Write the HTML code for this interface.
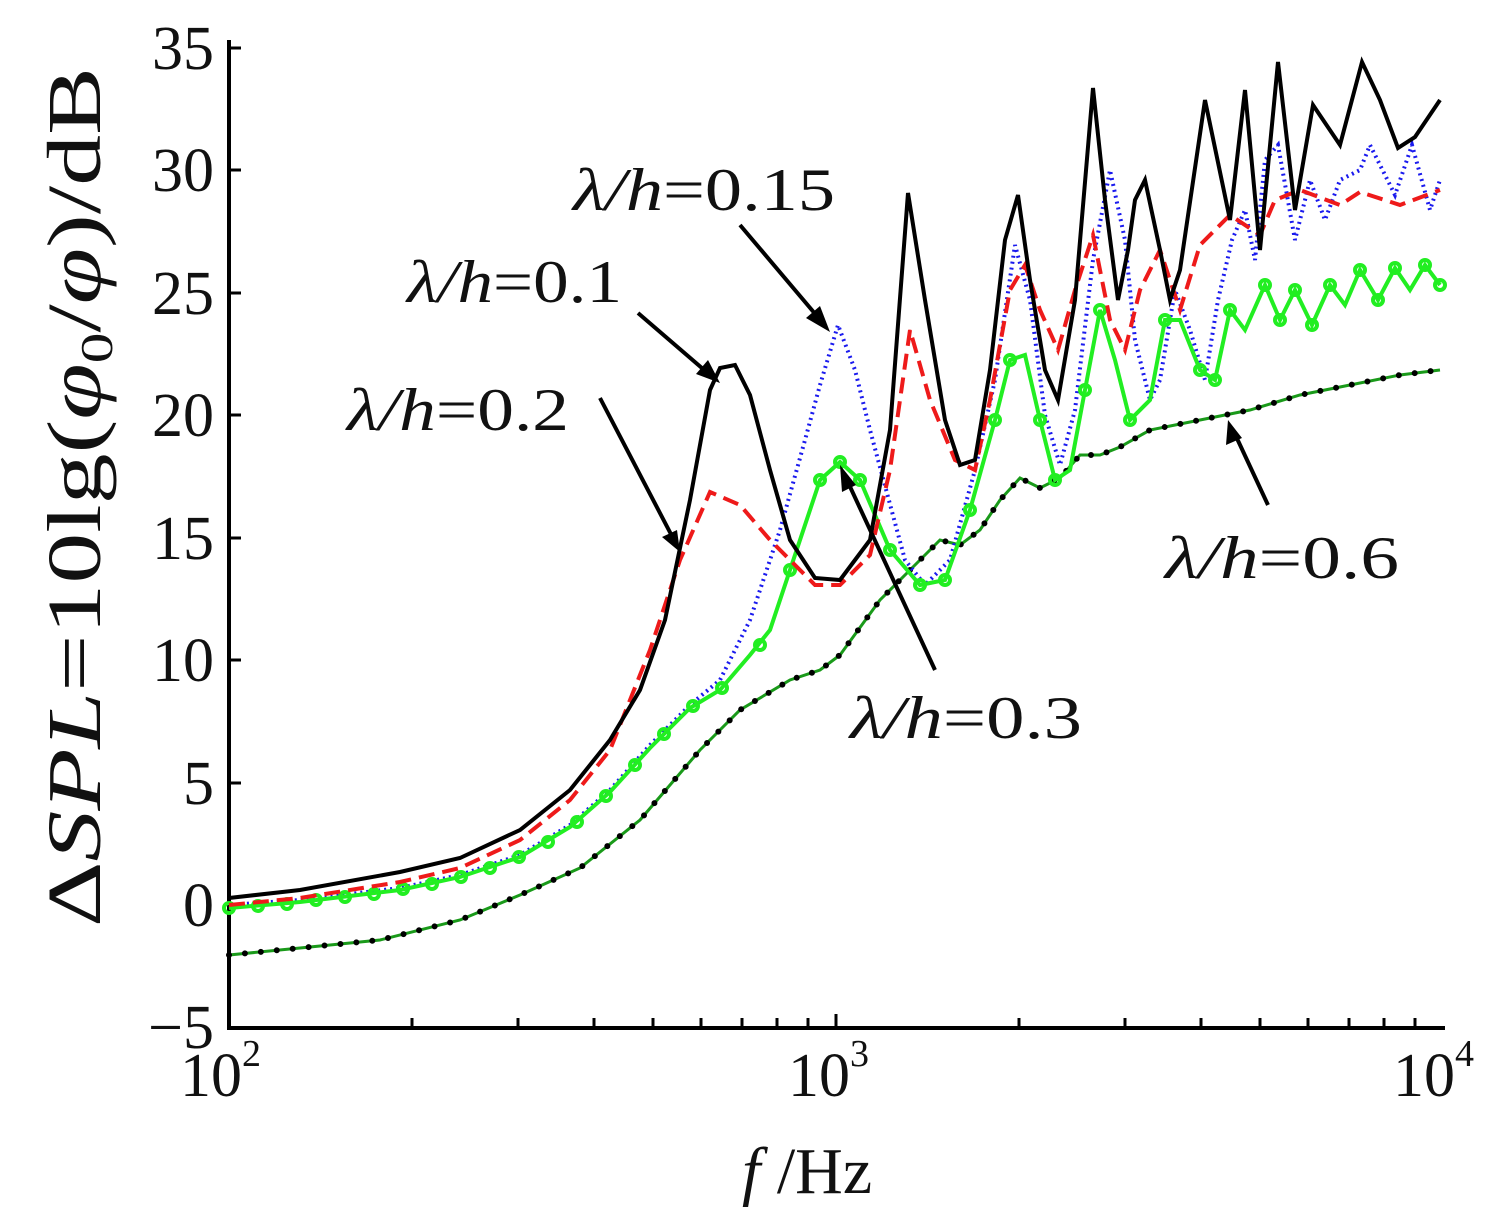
<!DOCTYPE html>
<html><head><meta charset="utf-8"><style>html,body{margin:0;padding:0;background:#fff}svg{display:block}</style></head>
<body>
<svg width="1506" height="1212" viewBox="0 0 1506 1212" xmlns="http://www.w3.org/2000/svg" font-family="'Liberation Serif', serif">
<rect width="1506" height="1212" fill="#fff"/>
<path d="M229,40 L229,1028 L1445,1028" fill="none" stroke="#000" stroke-width="4"/>
<g stroke="#000" stroke-width="3">
<line x1="229" y1="48" x2="241" y2="48"/><line x1="229" y1="170" x2="241" y2="170"/><line x1="229" y1="293" x2="241" y2="293"/><line x1="229" y1="415" x2="241" y2="415"/><line x1="229" y1="538" x2="241" y2="538"/><line x1="229" y1="660" x2="241" y2="660"/><line x1="229" y1="783" x2="241" y2="783"/><line x1="229" y1="905" x2="241" y2="905"/>
<line x1="412" y1="1028" x2="412" y2="1018"/><line x1="518" y1="1028" x2="518" y2="1018"/><line x1="594" y1="1028" x2="594" y2="1018"/><line x1="653" y1="1028" x2="653" y2="1018"/><line x1="701" y1="1028" x2="701" y2="1018"/><line x1="742" y1="1028" x2="742" y2="1018"/><line x1="777" y1="1028" x2="777" y2="1018"/><line x1="808" y1="1028" x2="808" y2="1018"/><line x1="836" y1="1028" x2="836" y2="1014"/>
<line x1="1019" y1="1028" x2="1019" y2="1018"/><line x1="1125" y1="1028" x2="1125" y2="1018"/><line x1="1201" y1="1028" x2="1201" y2="1018"/><line x1="1260" y1="1028" x2="1260" y2="1018"/><line x1="1308" y1="1028" x2="1308" y2="1018"/><line x1="1349" y1="1028" x2="1349" y2="1018"/><line x1="1384" y1="1028" x2="1384" y2="1018"/><line x1="1415" y1="1028" x2="1415" y2="1018"/>
</g>
<g font-size="62" text-anchor="end" fill="#111">
<text x="214" y="69">35</text><text x="214" y="191">30</text><text x="214" y="314">25</text><text x="214" y="436">20</text><text x="214" y="559">15</text><text x="214" y="681">10</text><text x="214" y="804">5</text><text x="214" y="926">0</text><text x="214" y="1048">−5</text>
</g>
<g font-size="62" fill="#111">
<text x="180" y="1096">10<tspan font-size="38" dy="-30">2</tspan></text>
<text x="788" y="1096">10<tspan font-size="38" dy="-30">3</tspan></text>
<text x="1393" y="1096">10<tspan font-size="38" dy="-30">4</tspan></text>
<text x="742" y="1193" font-size="66"><tspan font-style="italic">f</tspan> /Hz</text>
</g>
<text transform="translate(100,497) rotate(-90)" text-anchor="middle" font-size="76" fill="#111" textLength="860" lengthAdjust="spacingAndGlyphs">Δ<tspan font-style="italic">SPL</tspan>=10lg(<tspan font-style="italic">φ</tspan><tspan font-size="46" dy="12">0</tspan><tspan dy="-12">/</tspan><tspan font-style="italic">φ</tspan>)/dB</text>

<!-- 0.6 -->
<polyline fill="none" stroke="#1a9a1a" stroke-width="3" points="229,955 300,948 380,940 460,920 520,895 580,868 640,820 700,750 740,710 790,680 820,670 840,655 880,600 920,560 940,540 960,545 980,530 1000,500 1020,478 1040,488 1060,478 1080,455 1100,455 1120,447 1150,430 1200,420 1250,410 1300,395 1350,385 1400,375 1440,370"/>
<polyline fill="none" stroke="#000" stroke-width="6" stroke-linecap="round" stroke-dasharray="0 16" points="229,955 300,948 380,940 460,920 520,895 580,868 640,820 700,750 740,710 790,680 820,670 840,655 880,600 920,560 940,540 960,545 980,530 1000,500 1020,478 1040,488 1060,478 1080,455 1100,455 1120,447 1150,430 1200,420 1250,410 1300,395 1350,385 1400,375 1440,370"/>
<!-- blue -->
<polyline fill="none" stroke="#1a1aee" stroke-width="4" stroke-dasharray="2 4" points="229,905 300,900 400,888 460,875 520,855 570,825 610,790 650,745 690,705 720,680 750,620 780,530 805,440 820,385 838,325 855,370 870,430 905,560 925,585 950,560 975,470 995,380 1015,245 1030,300 1045,415 1060,465 1075,410 1093,260 1110,170 1125,240 1135,340 1150,400 1160,380 1175,290 1190,330 1205,380 1218,300 1232,240 1245,210 1255,260 1265,160 1278,145 1295,240 1310,180 1325,220 1340,180 1360,170 1370,145 1395,195 1412,145 1430,210 1440,180"/>
<!-- green -->
<polyline fill="none" stroke="#22ee22" stroke-width="4" points="229,908 300,902 400,890 460,877 520,857 570,827 610,792 650,748 690,708 720,690 750,655 770,630 790,570 820,480 840,462 860,480 890,550 920,585 945,580 970,510 995,420 1010,360 1025,355 1040,420 1055,480 1070,470 1085,390 1100,310 1115,360 1130,420 1150,400 1165,320 1180,320 1200,370 1215,380 1230,310 1245,330 1265,285 1280,320 1295,290 1312,325 1330,285 1345,305 1360,270 1378,300 1395,268 1410,290 1425,265 1440,285"/>
<g fill="none" stroke="#22ee22" stroke-width="4">
<circle cx="229" cy="908" r="5"/><circle cx="258" cy="906" r="5"/><circle cx="287" cy="904" r="5"/><circle cx="316" cy="900" r="5"/><circle cx="345" cy="897" r="5"/><circle cx="374" cy="894" r="5"/><circle cx="403" cy="889" r="5"/><circle cx="432" cy="884" r="5"/><circle cx="461" cy="877" r="5"/><circle cx="490" cy="868" r="5"/><circle cx="519" cy="857" r="5"/><circle cx="548" cy="842" r="5"/><circle cx="577" cy="822" r="5"/><circle cx="606" cy="796" r="5"/><circle cx="635" cy="765" r="5"/><circle cx="664" cy="734" r="5"/><circle cx="693" cy="706" r="5"/><circle cx="722" cy="688" r="5"/><circle cx="760" cy="645" r="5"/><circle cx="790" cy="570" r="5"/><circle cx="820" cy="480" r="5"/><circle cx="840" cy="462" r="5"/><circle cx="860" cy="480" r="5"/><circle cx="890" cy="550" r="5"/><circle cx="920" cy="585" r="5"/><circle cx="945" cy="580" r="5"/><circle cx="970" cy="510" r="5"/><circle cx="995" cy="420" r="5"/><circle cx="1010" cy="360" r="5"/><circle cx="1040" cy="420" r="5"/><circle cx="1055" cy="480" r="5"/><circle cx="1085" cy="390" r="5"/><circle cx="1100" cy="310" r="5"/><circle cx="1130" cy="420" r="5"/><circle cx="1165" cy="320" r="5"/><circle cx="1200" cy="370" r="5"/><circle cx="1215" cy="380" r="5"/><circle cx="1230" cy="310" r="5"/><circle cx="1265" cy="285" r="5"/><circle cx="1280" cy="320" r="5"/><circle cx="1295" cy="290" r="5"/><circle cx="1312" cy="325" r="5"/><circle cx="1330" cy="285" r="5"/><circle cx="1360" cy="270" r="5"/><circle cx="1378" cy="300" r="5"/><circle cx="1395" cy="268" r="5"/><circle cx="1425" cy="265" r="5"/><circle cx="1440" cy="285" r="5"/>
</g>
<!-- red -->
<polyline fill="none" stroke="#ee1a1a" stroke-width="4" stroke-dasharray="16 8" points="229,905 300,898 400,882 460,868 520,840 570,800 610,750 650,650 680,560 710,492 740,505 770,540 790,560 815,585 840,585 870,555 890,470 910,330 930,400 955,460 975,470 990,400 1010,290 1025,265 1040,310 1058,350 1075,290 1093,235 1110,320 1125,350 1140,290 1160,250 1180,310 1200,245 1230,215 1260,235 1275,200 1300,190 1340,205 1360,192 1400,205 1440,190"/>
<!-- black -->
<polyline fill="none" stroke="#000" stroke-width="4" points="229,898 300,890 400,872 460,858 520,830 570,790 610,740 640,690 665,620 690,500 710,390 720,368 735,365 750,395 770,470 790,540 815,578 840,580 870,540 890,430 908,193 925,300 945,420 960,465 975,460 990,370 1005,240 1018,195 1030,280 1045,370 1058,400 1075,300 1093,88 1105,200 1118,300 1128,250 1135,200 1145,180 1160,250 1170,300 1180,270 1205,100 1230,220 1245,90 1260,250 1278,62 1295,210 1313,105 1340,145 1362,62 1380,100 1398,148 1415,137 1440,100"/>

<g stroke="#000" stroke-width="4" fill="none">
<line x1="740" y1="225" x2="822" y2="322"/>
<line x1="638" y1="313" x2="710" y2="375"/>
<line x1="600" y1="398" x2="674" y2="540"/>
<line x1="935" y1="670" x2="846" y2="478"/>
<line x1="1268" y1="505" x2="1234" y2="432"/>
</g>
<g fill="#000">
<polygon points="830,332 806,318 820,306"/>
<polygon points="720,383 696,374 708,360"/>
<polygon points="680,552 662,537 677,530"/>
<polygon points="840,465 842,492 856,485"/>
<polygon points="1228,420 1226,445 1242,438"/>
</g>
<g font-size="60" fill="#111">
<text x="573" y="210" textLength="262" lengthAdjust="spacingAndGlyphs"><tspan font-style="italic">λ/h</tspan>=0.15</text>
<text x="407" y="302" textLength="215" lengthAdjust="spacingAndGlyphs"><tspan font-style="italic">λ/h</tspan>=0.1</text>
<text x="347" y="430" textLength="222" lengthAdjust="spacingAndGlyphs"><tspan font-style="italic">λ/h</tspan>=0.2</text>
<text x="850" y="738" textLength="232" lengthAdjust="spacingAndGlyphs"><tspan font-style="italic">λ/h</tspan>=0.3</text>
<text x="1165" y="578" textLength="234" lengthAdjust="spacingAndGlyphs"><tspan font-style="italic">λ/h</tspan>=0.6</text>
</g>
</svg>
</body></html>
